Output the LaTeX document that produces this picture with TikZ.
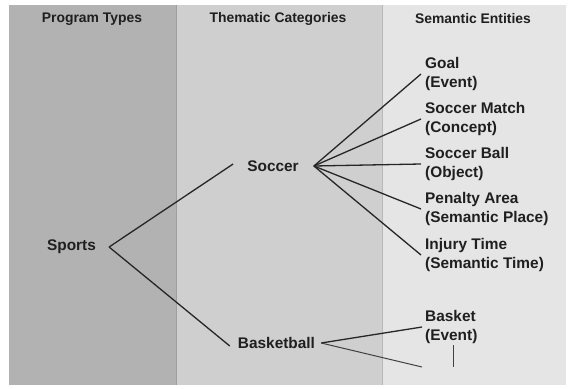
\documentclass[tikz,border=0pt]{standalone}
\usepackage{fontspec}
\setmainfont{Liberation Sans}
\begin{document}
\begin{tikzpicture}[x=1pt,y=-1pt,
  hdr/.style={font=\bfseries\fontsize{13.9}{18}\selectfont, text=black!88, inner sep=0pt},
  lbl/.style={font=\bfseries\fontsize{15.4}{19}\selectfont, text=black!88, inner sep=0pt},
  ent/.style={lbl, align=left, anchor=west},
  link/.style={draw=black!85, line width=1.3pt},
  thin link/.style={draw=black!75, line width=1pt}]
\useasboundingbox (0,0) rectangle (572,388);
\fill[white] (0,0) rectangle (572,388);
% columns
\fill[fill=black!30] (9,5) rectangle (176,385);
\fill[fill=black!19] (176,5) rectangle (382,385);
\fill[fill=black!10] (382,5) rectangle (566,385);
\draw[black!38, line width=0.8pt] (176,5) -- (176,385);
\draw[black!28, line width=0.8pt] (382,5) -- (382,385);
% headers
\node[hdr] (h1) at (92,19) {Program Types};
\node[hdr] (h2) at (278,19) {Thematic Categories};
\node[hdr] (h3) at (473,19) {Semantic Entities};
% nodes
\node[lbl] (sports) at (71.5,247) {Sports};
\node[lbl] (soccer) at (273,166) {Soccer};
\node[lbl] (basketball) at (276.5,343) {Basketball};
\node[ent] (goal) at (425,74) {Goal\\(Event)};
\node[ent] (match) at (425,119) {Soccer Match\\(Concept)};
\node[ent] (ball) at (425,164) {Soccer Ball\\(Object)};
\node[ent] (penalty) at (425,209) {Penalty Area\\(Semantic Place)};
\node[ent] (injury) at (425,255) {Injury Time\\(Semantic Time)};
\node[ent] (basket) at (425,327) {Basket\\(Event)};
\coordinate (loose) at (422,367);
\coordinate (stubtop) at (453,345);
\coordinate (stubbot) at (453,367);
% connectors
\coordinate (sp) at ([xshift=13pt]sports.east);
\coordinate (so) at ([xshift=15pt]soccer.east);
\coordinate (ba) at ([xshift=6pt]basketball.east);
\draw[link] (sp) -- ([xshift=-14pt,yshift=2pt]soccer.west);
\draw[link] (sp) -- ([xshift=-8pt,yshift=-3pt]basketball.west);
\foreach \t in {goal,match,ball,penalty,injury}
  \draw[link] (so) -- ([xshift=-4pt]\t.west);
\draw[link] (ba) -- ([xshift=-3pt]basket.west);
\draw[thin link] (ba) -- (loose);
\draw[thin link, line width=0.8pt] (stubtop) -- (stubbot);
\end{tikzpicture}
\end{document}
